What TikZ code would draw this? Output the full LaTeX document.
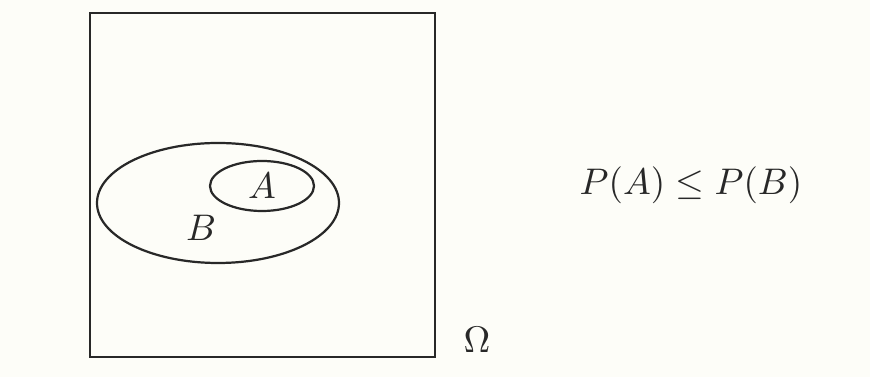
\documentclass[tikz,border=0pt]{standalone}
\usepackage{amsmath}
\usepackage{amssymb}
\usetikzlibrary{calc}
\definecolor{paper}{RGB}{253,253,248}
\definecolor{ink}{RGB}{40,40,40}

\begin{document}
\begin{tikzpicture}[x=0.27pt, y=-0.27pt]

        % 1. Page and drawing limits
        \fill[paper] (0,0) rectangle (870,377);
        \useasboundingbox (0,0) rectangle (870,377);

        \tikzset{setline/.style={ink, line width=0.6pt}}

        % 2. The sample space Omega
        \coordinate (OmTL) at (90,13);
        \coordinate (OmBR) at (435,357);
        \draw[setline] (OmTL) rectangle (OmBR);

        % 3. The events B (big) and A (small, inside B)
        \coordinate (cB) at (218,203);
        \coordinate (cA) at (262,186);
        \draw[setline] (cB) ellipse [x radius=121, y radius=60];
        \draw[setline] (cA) ellipse [x radius=52, y radius=25];

        % 4. Labels
        \node[ink] (labA) at (cA) {$A$};
        \node[ink] (labB) at (201,228) {$B$};
        \node[ink] (labOm) at (477,340) {$\Omega$};
        \node[ink] (ineq) at (691,185) {$P(A) \leq P(B)$};

\end{tikzpicture}
\end{document}
